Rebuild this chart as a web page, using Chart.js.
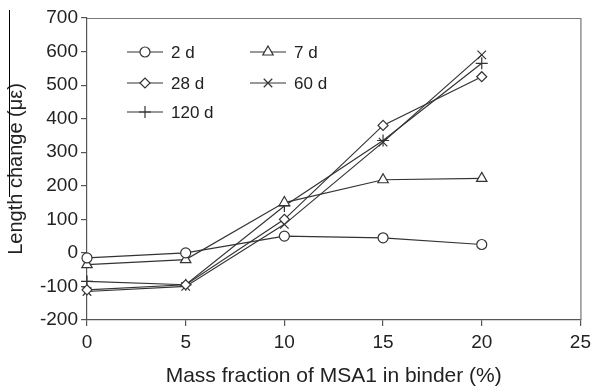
<!DOCTYPE html>
<html lang="en">

<head>
    <meta charset="UTF-8">
    <title>Length change vs MSA1 mass fraction</title>
    <script src="https://cdn.jsdelivr.net/npm/chart.js"></script>
    <style>
        html, body { margin: 0; padding: 0; background: #fff; }
        .chart-wrapper { width: 596px; height: 386px; position: relative; }
    </style>
</head>

<body>
    <div class="chart-wrapper">
        <canvas id="lengthChart"></canvas>
    </div>

<script>
    // mass fraction of MSA1 (%)
    const massFraction = [0, 5, 10, 15, 20];

    // length change (micro-strain) per curing age
    const d2 = [-15, 0, 50, 45, 25];
    const d7 = [-35, -20, 150, 218, 222];
    const d28 = [-110, -95, 100, 380, 525];
    const d60 = [-115, -100, 85, 330, 590];
    const d120 = [-85, -95, 140, 335, 565];

    const yTicks = [-200, -100, 0, 100, 200, 300, 400, 500, 600, 700];
    const xTicks = [0, 5, 10, 15, 20, 25];

    const lineColor = '#333';
    const fontFamily = '"Liberation Sans", Arial, sans-serif';

    function serie(label, valores, estilo, raio) {
        return {
            label: label,
            data: massFraction.map((x, i) => ({ x: x, y: valores[i] })),
            borderColor: lineColor,
            borderWidth: 1.2,
            backgroundColor: '#fff',
            pointStyle: estilo,
            pointRadius: raio,
            pointBorderColor: lineColor,
            pointBackgroundColor: '#fff',
            pointBorderWidth: 1.2,
            tension: 0,
            clip: false
        };
    }

    const series = [
        serie('2 d', d2, 'circle', 5),
        serie('7 d', d7, 'triangle', 6),
        serie('28 d', d28, 'rectRot', 5),
        serie('60 d', d60, 'crossRot', 6),
        serie('120 d', d120, 'cross', 6)
    ];

    // frame, legend inside the plot and the stray line at the left edge
    const extras = {
        id: 'extras',
        afterDraw(chart) {
            const ctx = chart.ctx;
            const a = chart.chartArea;
            ctx.save();
            ctx.strokeStyle = '#777';
            ctx.lineWidth = 1.2;
            ctx.beginPath();
            ctx.moveTo(a.left, a.top + 0.5);
            ctx.lineTo(a.right + 0.5, a.top + 0.5);
            ctx.lineTo(a.right + 0.5, a.bottom);
            ctx.stroke();

            ctx.strokeStyle = '#000';
            ctx.lineWidth = 1;
            ctx.beginPath();
            ctx.moveTo(9.5, 10);
            ctx.lineTo(9.5, 197);
            ctx.stroke();

            const colunas = [127, 250];
            const linhas = [52, 83, 112];
            ctx.font = '17px ' + fontFamily;
            ctx.textBaseline = 'middle';
            series.forEach((ds, i) => {
                const x = colunas[i % 2];
                const y = linhas[Math.floor(i / 2)];
                ctx.strokeStyle = lineColor;
                ctx.lineWidth = 1.2;
                ctx.beginPath();
                ctx.moveTo(x, y);
                ctx.lineTo(x + 36, y);
                ctx.stroke();
                ctx.fillStyle = '#fff';
                Chart.helpers.drawPoint(ctx, {
                    pointStyle: ds.pointStyle,
                    radius: ds.pointRadius,
                    rotation: 0,
                    borderWidth: 1.2
                }, x + 18, y);
                ctx.fillStyle = '#222';
                ctx.fillText(ds.label, x + 44, y + 1);
            });
            ctx.restore();
        }
    };

    new Chart(document.getElementById('lengthChart').getContext('2d'), {
        type: 'line',
        data: { datasets: series },
        options: {
            responsive: true,
            maintainAspectRatio: false,
            animation: false,
            layout: { padding: { top: 18, right: 9, left: 0, bottom: 0 } },
            scales: {
                x: {
                    type: 'linear',
                    min: 0,
                    max: 25,
                    afterBuildTicks: s => { s.ticks = xTicks.map(v => ({ value: v })); },
                    afterFit: s => { s.height = 66; },
                    grid: { drawOnChartArea: false, tickLength: 6, color: '#555', lineWidth: 1.2 },
                    border: { color: '#555', width: 1.2 },
                    ticks: { color: '#222', font: { size: 19, family: fontFamily }, padding: 5, maxRotation: 0 },
                    title: {
                        display: true,
                        text: 'Mass fraction of MSA1 in binder (%)',
                        color: '#222',
                        font: { size: 21, family: fontFamily },
                        padding: { top: 4, bottom: -3 }
                    }
                },
                y: {
                    min: -200,
                    max: 700,
                    afterBuildTicks: s => { s.ticks = yTicks.map(v => ({ value: v })); },
                    afterFit: s => { s.width = 87; },
                    grid: { drawOnChartArea: false, tickLength: 6, color: '#555', lineWidth: 1.2 },
                    border: { color: '#555', width: 1.2 },
                    ticks: { color: '#222', font: { size: 19, family: fontFamily }, padding: 3 },
                    title: {
                        display: true,
                        text: 'Length change (\u03BC\u03B5)',
                        color: '#222',
                        font: { size: 20, family: fontFamily },
                        padding: { bottom: 0 }
                    }
                }
            },
            plugins: {
                legend: { display: false },
                tooltip: { enabled: false }
            }
        },
        plugins: [extras]
    });
</script>
</body>

</html>
